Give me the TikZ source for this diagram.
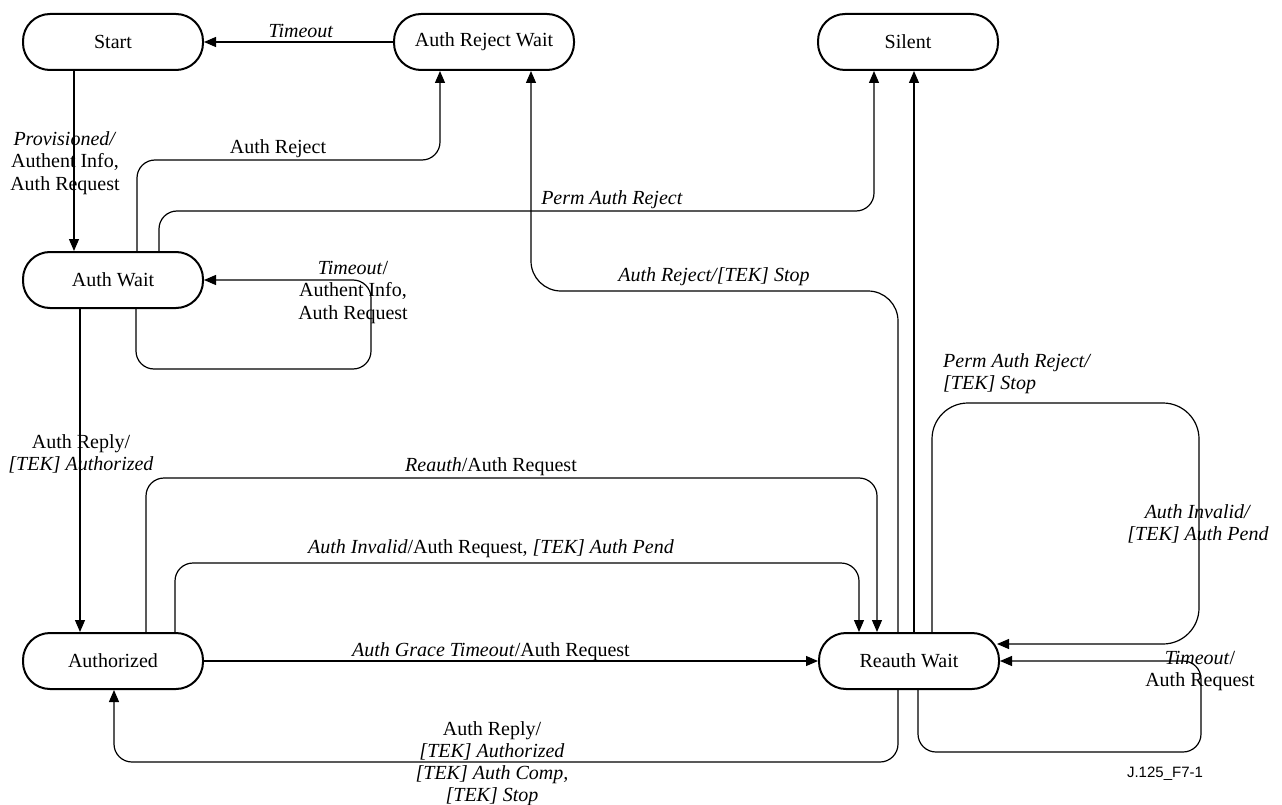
\documentclass[tikz,border=0pt]{standalone}
\usepackage{fontspec}
\setmainfont{Liberation Serif}
\newfontfamily\figsans{Liberation Sans}
\usetikzlibrary{arrows.meta}
\begin{document}
\begin{tikzpicture}[x=1pt,y=-1pt,
 state/.style={draw,line width=2pt,rounded corners=27pt,minimum width=180pt,minimum height=56pt,inner sep=0pt,font=\fontsize{20}{22.5}\selectfont},
 conn/.style={line width=1.2pt,-{Triangle[length=12pt,width=10pt]},rounded corners=18pt},
 lbl/.style={inner sep=0pt,font=\fontsize{20}{22.5}\selectfont,align=center},
 lblb/.style={lbl,anchor=base},
 lbln/.style={lbl,anchor=north},
]
\useasboundingbox (0,0) rectangle (1282,805);
\fill[white] (0,0) rectangle (1282,805);

\node[state] (start) at (113,42) {Start};
\node[state] (arw) at (484,42) {Auth Reject Wait};
\node[state] (silent) at (908,42) {Silent};
\node[state] (aw) at (113,280) {Auth Wait};
\node[state] (authd) at (113,661) {Authorized};
\node[state] (rw) at (909,661) {Reauth Wait};

\draw[conn] (arw.west) -- (start.east);
\draw[conn] ([xshift=-39pt]start.south) -- ([xshift=-39pt]aw.north);
\draw[conn] ([xshift=24pt]aw.north) -- (137,160) -- (440,160) -- ([xshift=-44pt]arw.south);
\draw[conn] ([xshift=46pt]aw.north) -- (159,211) -- (874,211) -- ([xshift=-34pt]silent.south);
\draw[conn,rounded corners=30pt] ([xshift=-11pt]rw.north) -- (898,291) -- (531,291) -- ([xshift=47pt]arw.south);
\draw[conn] ([xshift=5pt]rw.north) -- ([xshift=6pt]silent.south);
\draw[conn,rounded corners=36pt] ([xshift=23pt]rw.north) -- (932,403) -- (1199,403) -- (1199,644) -- ([xshift=-3pt,yshift=17pt]rw.east);
\draw[conn] ([xshift=9pt]rw.south) -- (918,752) -- (1201,752) -- (1201,661) -- (rw.east);
\draw[conn] ([xshift=23pt]aw.south) -- (136,369) -- (371,369) -- (371,280) -- (aw.east);
\draw[conn] ([xshift=-33pt]aw.south) -- ([xshift=-33pt]authd.north);
\draw[conn] ([xshift=33pt]authd.north) -- (146,478) -- (877,478) -- ([xshift=-32pt]rw.north);
\draw[conn] ([xshift=62pt]authd.north) -- (175,563) -- (859,563) -- ([xshift=-50pt]rw.north);
\draw[conn] (authd.east) -- (rw.west);
\draw[conn] ([xshift=-11pt]rw.south) -- (898,762) -- (114,762) -- ([xshift=1pt]authd.south);

\node[lblb] (l1) at (301,38) {\textit{Timeout}};
\node[lbln] (l2) at (65,131) {\textit{Provisioned/}\\Authent Info,\\Auth Request};
\node[lblb] (l3) at (278,154) {Auth Reject};
\node[lblb] (l4) at (612,205) {\textit{Perm Auth Reject}};
\node[lbln] (l5) at (353,261) {\textit{Timeout}/\\Authent Info,\\Auth Request};
\node[lblb] (l6) at (714,281) {\textit{Auth Reject/[TEK] Stop}};
\node[lbl,anchor=north west,align=left] (l7) at (943,353) {\textit{Perm Auth Reject/}\\\textit{[TEK] Stop}};
\node[lbln] (l8) at (81,434) {Auth Reply/\\\textit{[TEK] Authorized}};
\node[lblb] (l9) at (491,471) {\textit{Reauth}/Auth Request};
\node[lbln] (l10) at (1198,504) {\textit{Auth Invalid/}\\\textit{[TEK] Auth Pend}};
\node[lblb] (l11) at (491,553) {\textit{Auth Invalid}/Auth Request, \textit{[TEK] Auth Pend}};
\node[lblb] (l12) at (491,656) {\textit{Auth Grace Timeout}/Auth Request};
\node[lbln] (l13) at (1200,651) {\textit{Timeout}/\\Auth Request};
\node[lbln,font=\fontsize{20}{22}\selectfont] (l14) at (492,721) {Auth Reply/\\\textit{[TEK] Authorized}\\\textit{[TEK] Auth Comp,}\\\textit{[TEK] Stop}};
\node[lbl,anchor=base,font=\figsans\fontsize{15}{17}\selectfont] (l15) at (1165,777) {J.125\_F7-1};
\end{tikzpicture}
\end{document}
